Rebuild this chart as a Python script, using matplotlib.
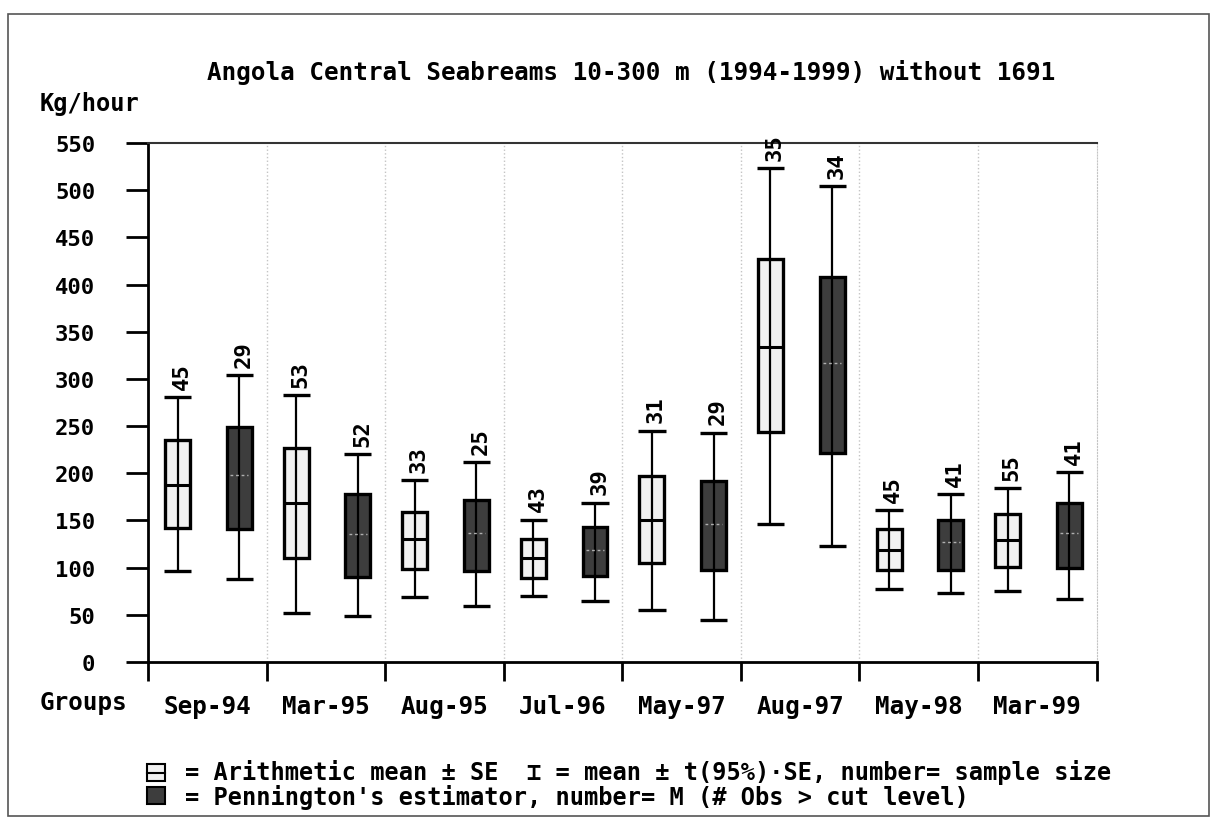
import matplotlib
matplotlib.use("Agg")
import matplotlib.pyplot as plt
from matplotlib.patches import Rectangle
from matplotlib.lines import Line2D
import numpy as np

plt.rcParams['font.family'] = ['DejaVu Sans Mono', 'DejaVu Sans']
plt.rcParams['font.weight'] = 'bold'

groups = ["Sep-94", "Mar-95", "Aug-95", "Jul-96", "May-97", "Aug-97", "May-98", "Mar-99"]

# arithmetic mean: whisker low, box low (mean-SE), mean, box high (mean+SE), whisker high
am_n = [45, 53, 33, 43, 31, 35, 45, 55]
am_wlo = [96, 52, 69, 70, 55, 146, 77, 75]
am_blo = [142, 110, 99, 89, 105, 244, 98, 101]
am_mean = [188, 168, 130, 110, 151, 334, 119, 129]
am_bhi = [235, 227, 159, 130, 197, 427, 141, 157]
am_whi = [281, 283, 193, 151, 245, 523, 161, 184]

# Pennington's estimator
pe_n = [29, 52, 25, 39, 29, 34, 41, 41]
pe_wlo = [88, 49, 59, 65, 45, 123, 73, 67]
pe_blo = [141, 90, 96, 91, 97, 221, 98, 100]
pe_mean = [198, 136, 137, 119, 146, 317, 127, 137]
pe_bhi = [249, 178, 172, 143, 192, 408, 151, 169]
pe_whi = [304, 220, 212, 169, 243, 504, 178, 201]


def draw_box(ax, x, lo, blo, mean, bhi, hi, n, dark):
    w = 0.21
    if dark:
        ax.add_patch(Rectangle((x - w / 2, blo), w, bhi - blo, facecolor='#3d3d3d',
                               edgecolor='black', lw=2.4, zorder=2))
        ax.hlines(mean, x - w / 2 + 0.03, x + w / 2 - 0.03, color='#b0b0b0',
                  lw=1, linestyles=(0, (2, 2)), zorder=4)
    else:
        ax.add_patch(Rectangle((x - w / 2, blo), w, bhi - blo, facecolor='#f1f1f1',
                               edgecolor='black', lw=2.4, zorder=2))
        ax.hlines(mean, x - w / 2, x + w / 2, color='black', lw=2.2, zorder=4)
    ax.vlines(x, lo, hi, color='black', lw=1.6, zorder=3)
    ax.hlines([lo, hi], x - w / 2 - 0.01, x + w / 2 + 0.01, color='black', lw=2.4, zorder=3)
    ax.annotate(str(n), (x, hi), xytext=(3, 6), textcoords='offset points',
                rotation=90, ha='center', va='bottom', fontsize=16)


fig = plt.figure(figsize=(12.13, 8.29), dpi=100)
ax = fig.add_axes([0.122, 0.2002, 0.782, 0.6261])

for i in range(len(groups)):
    draw_box(ax, i - 0.25, am_wlo[i], am_blo[i], am_mean[i], am_bhi[i], am_whi[i], am_n[i], False)
    draw_box(ax, i + 0.27, pe_wlo[i], pe_blo[i], pe_mean[i], pe_bhi[i], pe_whi[i], pe_n[i], True)

# faint dotted separators between groups
for b in np.arange(0.5, 7.5, 1):
    ax.axvline(b, color='#c4c4c4', lw=1, ls=':', zorder=0)

ax.set_xlim(-0.5, 7.5)
ax.set_ylim(0, 550)
ax.set_yticks(range(0, 551, 50))
ax.tick_params(axis='y', length=16, width=2, pad=22, labelsize=16, direction='out')

ax.set_xticks(np.arange(-0.5, 8, 1))
ax.set_xticklabels([])
ax.tick_params(axis='x', which='major', length=14, width=2, direction='out')
ax.set_xticks(np.arange(len(groups)), minor=True)
ax.set_xticklabels(groups, minor=True, fontsize=17.5)
ax.tick_params(axis='x', which='minor', length=0, pad=23)

ax.spines['left'].set_linewidth(2)
ax.spines['bottom'].set_linewidth(2)
ax.spines['top'].set_linewidth(1.5)
ax.spines['top'].set_color('#333333')
ax.spines['right'].set_color('#c4c4c4')
ax.spines['right'].set_linestyle(':')

fig.text(0.520, 0.913, "Angola Central Seabreams 10-300 m (1994-1999) without 1691",
         ha='center', va='center', fontsize=17.5)
fig.text(0.033, 0.875, "Kg/hour", ha='left', va='center', fontsize=17)
fig.text(0.033, 0.152, "Groups", ha='left', va='center', fontsize=17.5)

# legend at the bottom
fig.patches.append(Rectangle((0.121, 0.0567), 0.015, 0.0205, transform=fig.transFigure,
                             facecolor='#f1f1f1', edgecolor='black', lw=1.5))
fig.lines.append(Line2D([0.121, 0.136], [0.0669, 0.0669], transform=fig.transFigure,
                        color='black', lw=1.5))
fig.patches.append(Rectangle((0.121, 0.0290), 0.015, 0.0205, transform=fig.transFigure,
                             facecolor='#3d3d3d', edgecolor='black', lw=1.5))
fig.text(0.1525, 0.0676, "= Arithmetic mean ± SE  ⌶ = mean ± t(95%)·SE, number= sample size",
         ha='left', va='center', fontsize=17)
fig.text(0.1525, 0.0386, "= Pennington's estimator, number= M (# Obs > cut level)",
         ha='left', va='center', fontsize=17)

# outer frame
fig.patches.append(Rectangle((0.007, 0.015), 0.99, 0.967, transform=fig.transFigure,
                             facecolor='none', edgecolor='#555555', lw=1.2))

fig.savefig("out.png", dpi=100)
